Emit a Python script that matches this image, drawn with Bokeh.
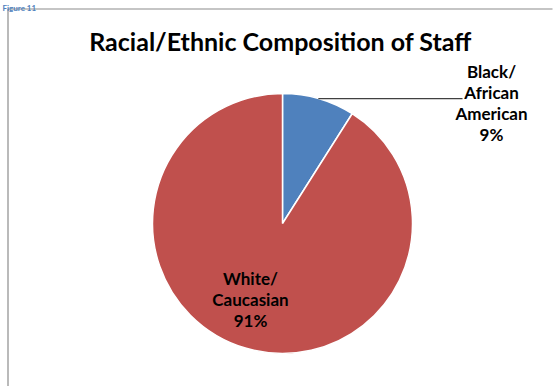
import math
from bokeh.plotting import figure
from bokeh.models import ColumnDataSource
from bokeh.core.properties import value
from bokeh.embed import file_html
from bokeh.resources import INLINE

categories = ["Black/\nAfrican\nAmerican", "White/\nCaucasian"]
percents = [9, 91]
colors = ["#4F81BD", "#C0504D"]
title_text = "Racial/Ethnic Composition of Staff"
caption_text = "Figure 11"

W, H = 553, 386
p = figure(width=W, height=H, x_range=(0, W), y_range=(0, H),
           output_backend="svg", toolbar_location=None, min_border=0)
p.axis.visible = False
p.grid.visible = False
p.outline_line_color = None
p.background_fill_color = "white"

# chart box border (top and left visible)
p.segment(x0=[7.5, 7.5], y0=[H - 8.5, H - 8.5], x1=[552, 7.5], y1=[H - 8.5, -5],
          line_color="#8c8c8c", line_width=1.2)

# "Figure" caption above the box
p.text(x=[2], y=[H - 7], text=[caption_text], text_color="#4F81BD",
       text_font=value("Lato"), text_font_style="bold", text_font_size="8px",
       text_baseline="alphabetic", text_align="left")

cx, cy, r = 282, H - 223, 130
total = sum(percents)
starts, ends = [], []
ang = math.pi / 2
for v in percents:
    span = v / total * 2 * math.pi
    ends.append(ang)
    starts.append(ang - span)
    ang -= span
src = ColumnDataSource(dict(start=starts, end=ends, color=colors))
p.wedge(x=cx, y=cy, radius=r, start_angle="start", end_angle="end",
        fill_color="color", line_color="white", line_width=1.5, source=src)

# title
p.text(x=[280], y=[H - 40], text=[title_text], text_font=value("Lato"),
       text_font_style="bold", text_font_size="25px", text_align="center",
       text_baseline="middle", text_color="black")

# leader line for small slice
lx = cx + r * math.cos(math.radians(74))
ly = cy + r * math.sin(math.radians(74))
p.line(x=[lx, 462], y=[ly, ly], line_color="#404040", line_width=1.2)

labels = [f"{c}\n{v}%" for c, v in zip(categories, percents)]
p.text(x=[491, 250], y=[H - 102, H - 299], text=labels, text_font=value("Lato"),
       text_font_style="bold", text_font_size="17px", text_align="center",
       text_baseline="middle", text_line_height=1.0, text_color="black")

open("out.html", "w").write(file_html(p, INLINE))
